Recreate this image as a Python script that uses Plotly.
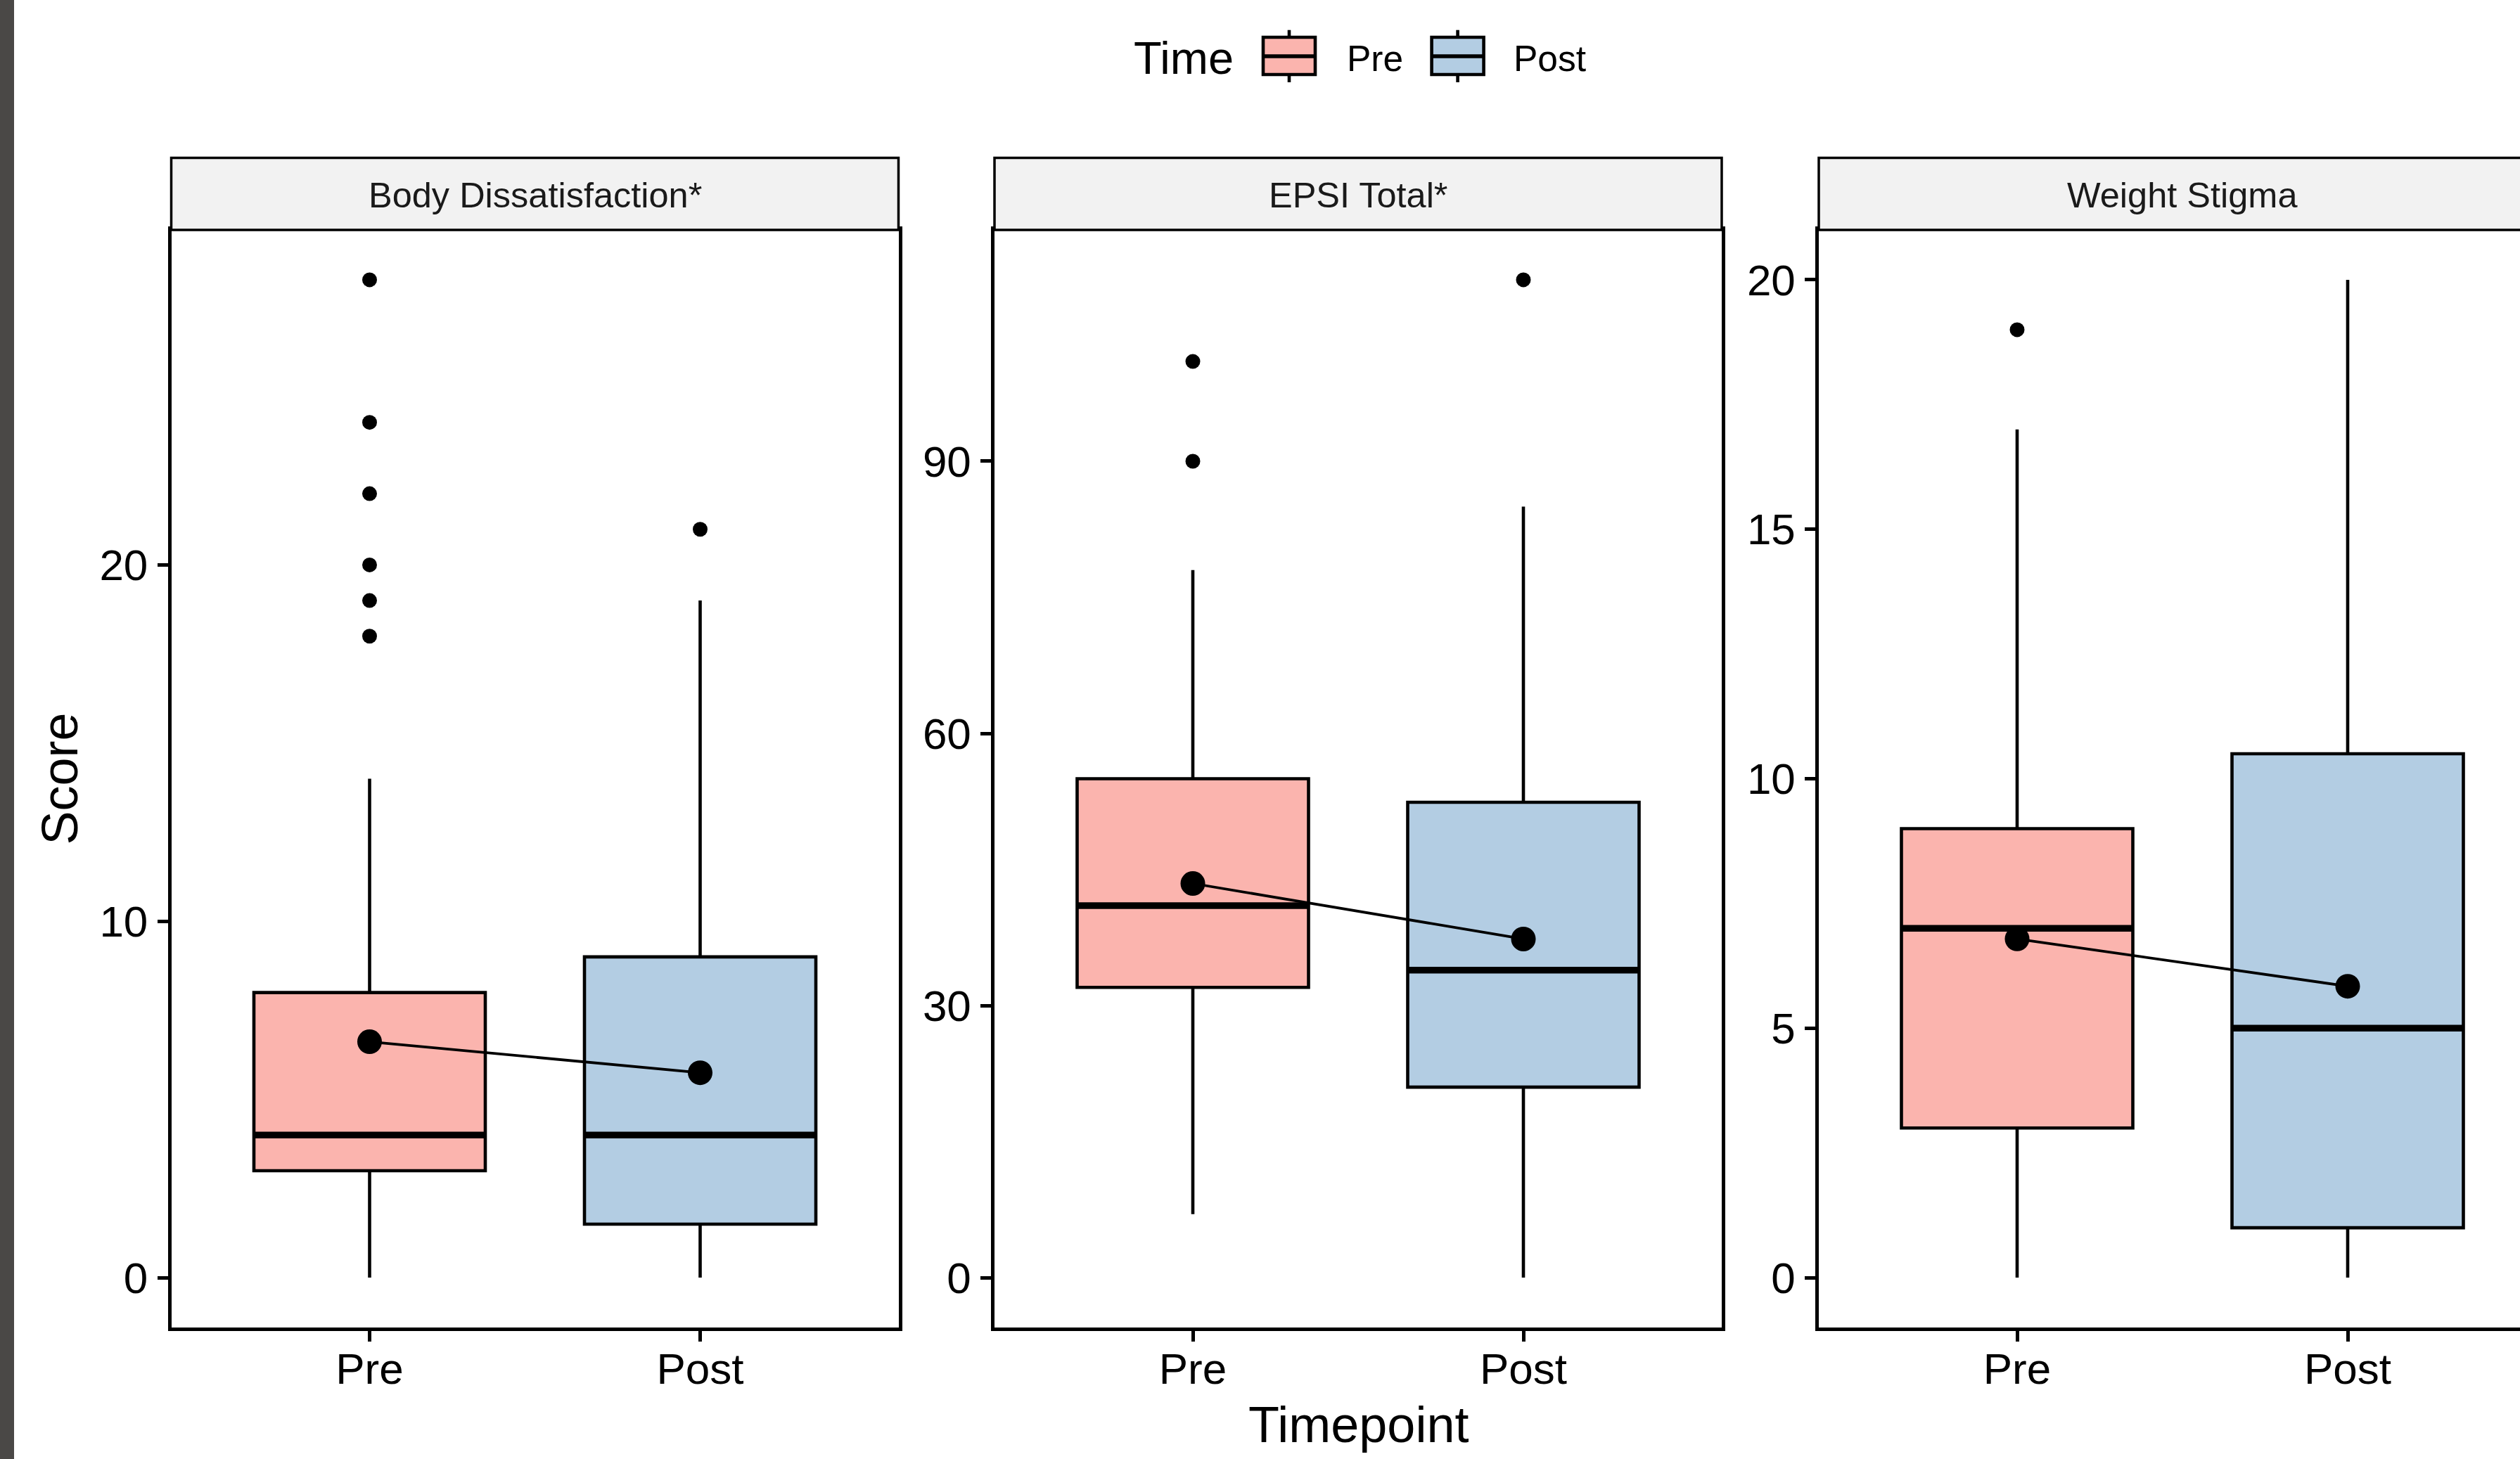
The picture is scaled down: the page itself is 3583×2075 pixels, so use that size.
import plotly.graph_objects as go

W, H = 3583, 2075
FONT = "Arial, 'Liberation Sans', Helvetica, sans-serif"

# ---------------- data ----------------
facets = ["Body Dissatisfaction*", "EPSI Total*", "Weight Stigma"]
times = ["Pre", "Post"]
y_tickvals = [[0, 10, 20], [0, 30, 60, 90], [0, 5, 10, 15, 20]]

q1_vals = [[3, 1.5], [32, 21], [3, 1]]
median_vals = [[4, 4], [41, 33.9], [7, 5]]
q3_vals = [[8, 9], [55, 52.4], [9, 10.5]]
lower_whisker = [[0, 0], [7, 0], [0, 0]]
upper_whisker = [[14, 19], [78, 85], [17, 20]]
mean_vals = [[6.62, 5.75], [43.45, 37.33], [6.79, 5.84]]
outlier_vals = [
    [[18, 19, 20, 22, 24, 28], [21]],
    [[90, 101], [110]],
    [[19], []],
]

# ---------------- styling / layout constants ----------------
fill_colors = ["#FBB4AE", "#B3CDE3"]
strip_fill = "#F2F2F2"
box_w = 0.7
panel_left = [243.5, 1414.0, 2586.0]
panel_w = 1034.0
plot_top, plot_bottom = 327.0, 1888.0
strip_top = 224.5
LW = 4.6


def px(xp):
    return xp / W


def py(yp):
    return 1 - yp / H


fig = go.Figure()
shapes = []
annotations = []

positions = [1, 2]
for i, facet in enumerate(facets):
    s = "" if i == 0 else str(i + 1)
    xa, ya = "x" + s, "y" + s
    for j, t in enumerate(times):
        pos = positions[j]
        fig.add_trace(go.Box(
            x=[pos], q1=[q1_vals[i][j]], median=[median_vals[i][j]], q3=[q3_vals[i][j]],
            lowerfence=[lower_whisker[i][j]], upperfence=[upper_whisker[i][j]],
            width=box_w, whiskerwidth=0, fillcolor=fill_colors[j],
            line=dict(color="black", width=LW), boxpoints=False,
            name=t, showlegend=False, xaxis=xa, yaxis=ya, hoverinfo="skip"))
        # thicker median line (ggplot fatten)
        fig.add_trace(go.Scatter(
            x=[pos - box_w / 2, pos + box_w / 2],
            y=[median_vals[i][j], median_vals[i][j]],
            mode="lines", line=dict(color="black", width=9.5),
            showlegend=False, xaxis=xa, yaxis=ya, hoverinfo="skip"))
        if outlier_vals[i][j]:
            fig.add_trace(go.Scatter(
                x=[pos] * len(outlier_vals[i][j]), y=outlier_vals[i][j],
                mode="markers", marker=dict(color="black", size=21, line=dict(width=0)),
                showlegend=False, xaxis=xa, yaxis=ya, hoverinfo="skip"))
    # mean line + points
    fig.add_trace(go.Scatter(
        x=positions, y=mean_vals[i], mode="lines+markers",
        line=dict(color="black", width=3.8),
        marker=dict(color="black", size=35, line=dict(width=0)),
        showlegend=False, xaxis=xa, yaxis=ya, hoverinfo="skip"))

    # axis ranges from data with 5% expansion
    all_vals = (lower_whisker[i] + upper_whisker[i]
                + [v for grp in outlier_vals[i] for v in grp])
    lo, hi = min(all_vals), max(all_vals)
    pad = 0.05 * (hi - lo)
    yr = [lo - pad, hi + pad]

    left = panel_left[i]
    right = min(left + panel_w, W)
    xr = [0.4, 0.4 + 2.2 * (right - left) / panel_w]

    axis_common = dict(
        showline=True, linewidth=4.5, linecolor="black",
        ticks="outside", ticklen=15, tickwidth=4.5, tickcolor="black",
        showgrid=False, zeroline=False,
        tickfont=dict(family=FONT, size=62, color="black"),
    )
    fig.update_layout(**{
        "xaxis" + s: dict(domain=[px(left), px(right)], range=xr,
                          tickvals=positions, ticktext=times,
                          mirror=True, anchor=ya, fixedrange=True,
                          ticklabelstandoff=-14, **axis_common),
        "yaxis" + s: dict(domain=[py(plot_bottom), py(plot_top)], range=yr,
                          tickvals=y_tickvals[i], mirror=(i < 2), anchor=xa,
                          fixedrange=True, ticklabelstandoff=1, **axis_common),
    })

    # facet strip
    shapes.append(dict(type="rect", xref="paper", yref="paper",
                       x0=px(left), x1=px(left + panel_w),
                       y0=py(plot_top), y1=py(strip_top),
                       fillcolor=strip_fill, line=dict(color="black", width=3.5),
                       layer="above"))
    annotations.append(dict(text=facet, xref="paper", yref="paper",
                            x=px(left + panel_w / 2), y=py(277.6),
                            xanchor="center", yanchor="middle", showarrow=False,
                            font=dict(family=FONT, size=50.5, color="#1A1A1A")))

# axis titles
annotations.append(dict(text="Timepoint", xref="paper", yref="paper",
                        x=px((panel_left[0] + panel_left[2] + panel_w) / 2), y=py(2026.4),
                        xanchor="center", yanchor="middle", showarrow=False,
                        font=dict(family=FONT, size=72, color="black")))
annotations.append(dict(text="Score", xref="paper", yref="paper",
                        x=px(84), y=py((plot_top + plot_bottom) / 2),
                        xanchor="center", yanchor="middle", showarrow=False,
                        textangle=-90,
                        font=dict(family=FONT, size=72, color="black")))

# manual legend (ggplot style keys)
annotations.append(dict(text="Time", xref="paper", yref="paper",
                        x=px(1610), y=py(82.5), xanchor="left", yanchor="middle",
                        showarrow=False, font=dict(family=FONT, size=65, color="black")))
key_left = [1796, 2035.6]
label_left = [1913, 2150]
for j, t in enumerate(times):
    k0, k1 = key_left[j], key_left[j] + 74
    kc = (k0 + k1) / 2
    shapes.append(dict(type="line", xref="paper", yref="paper",
                       x0=px(kc), x1=px(kc), y0=py(42.7), y1=py(117),
                       line=dict(color="black", width=LW)))
    shapes.append(dict(type="rect", xref="paper", yref="paper",
                       x0=px(k0), x1=px(k1), y0=py(106), y1=py(53),
                       fillcolor=fill_colors[j], line=dict(color="black", width=LW)))
    shapes.append(dict(type="line", xref="paper", yref="paper",
                       x0=px(k0), x1=px(k1), y0=py(80), y1=py(80),
                       line=dict(color="black", width=5.5)))
    annotations.append(dict(text=t, xref="paper", yref="paper",
                            x=px(label_left[j]), y=py(82.8), xanchor="left",
                            yanchor="middle", showarrow=False,
                            font=dict(family=FONT, size=51.5, color="black")))

# dark strip at the left edge of the screenshot
shapes.append(dict(type="rect", xref="paper", yref="paper",
                   x0=0, x1=px(20), y0=0, y1=1,
                   fillcolor="#4A4846", line=dict(width=0)))

fig.update_layout(
    width=W, height=H, autosize=False,
    margin=dict(l=0, r=0, t=0, b=0, pad=0),
    paper_bgcolor="white", plot_bgcolor="white",
    boxmode="overlay", showlegend=False,
    shapes=shapes, annotations=annotations,
    font=dict(family=FONT, color="black"),
)

fig.write_html(
    "out.html",
    config={"displayModeBar": False},
    post_script="document.body.style.margin='0';document.body.style.overflow='hidden';",
)
